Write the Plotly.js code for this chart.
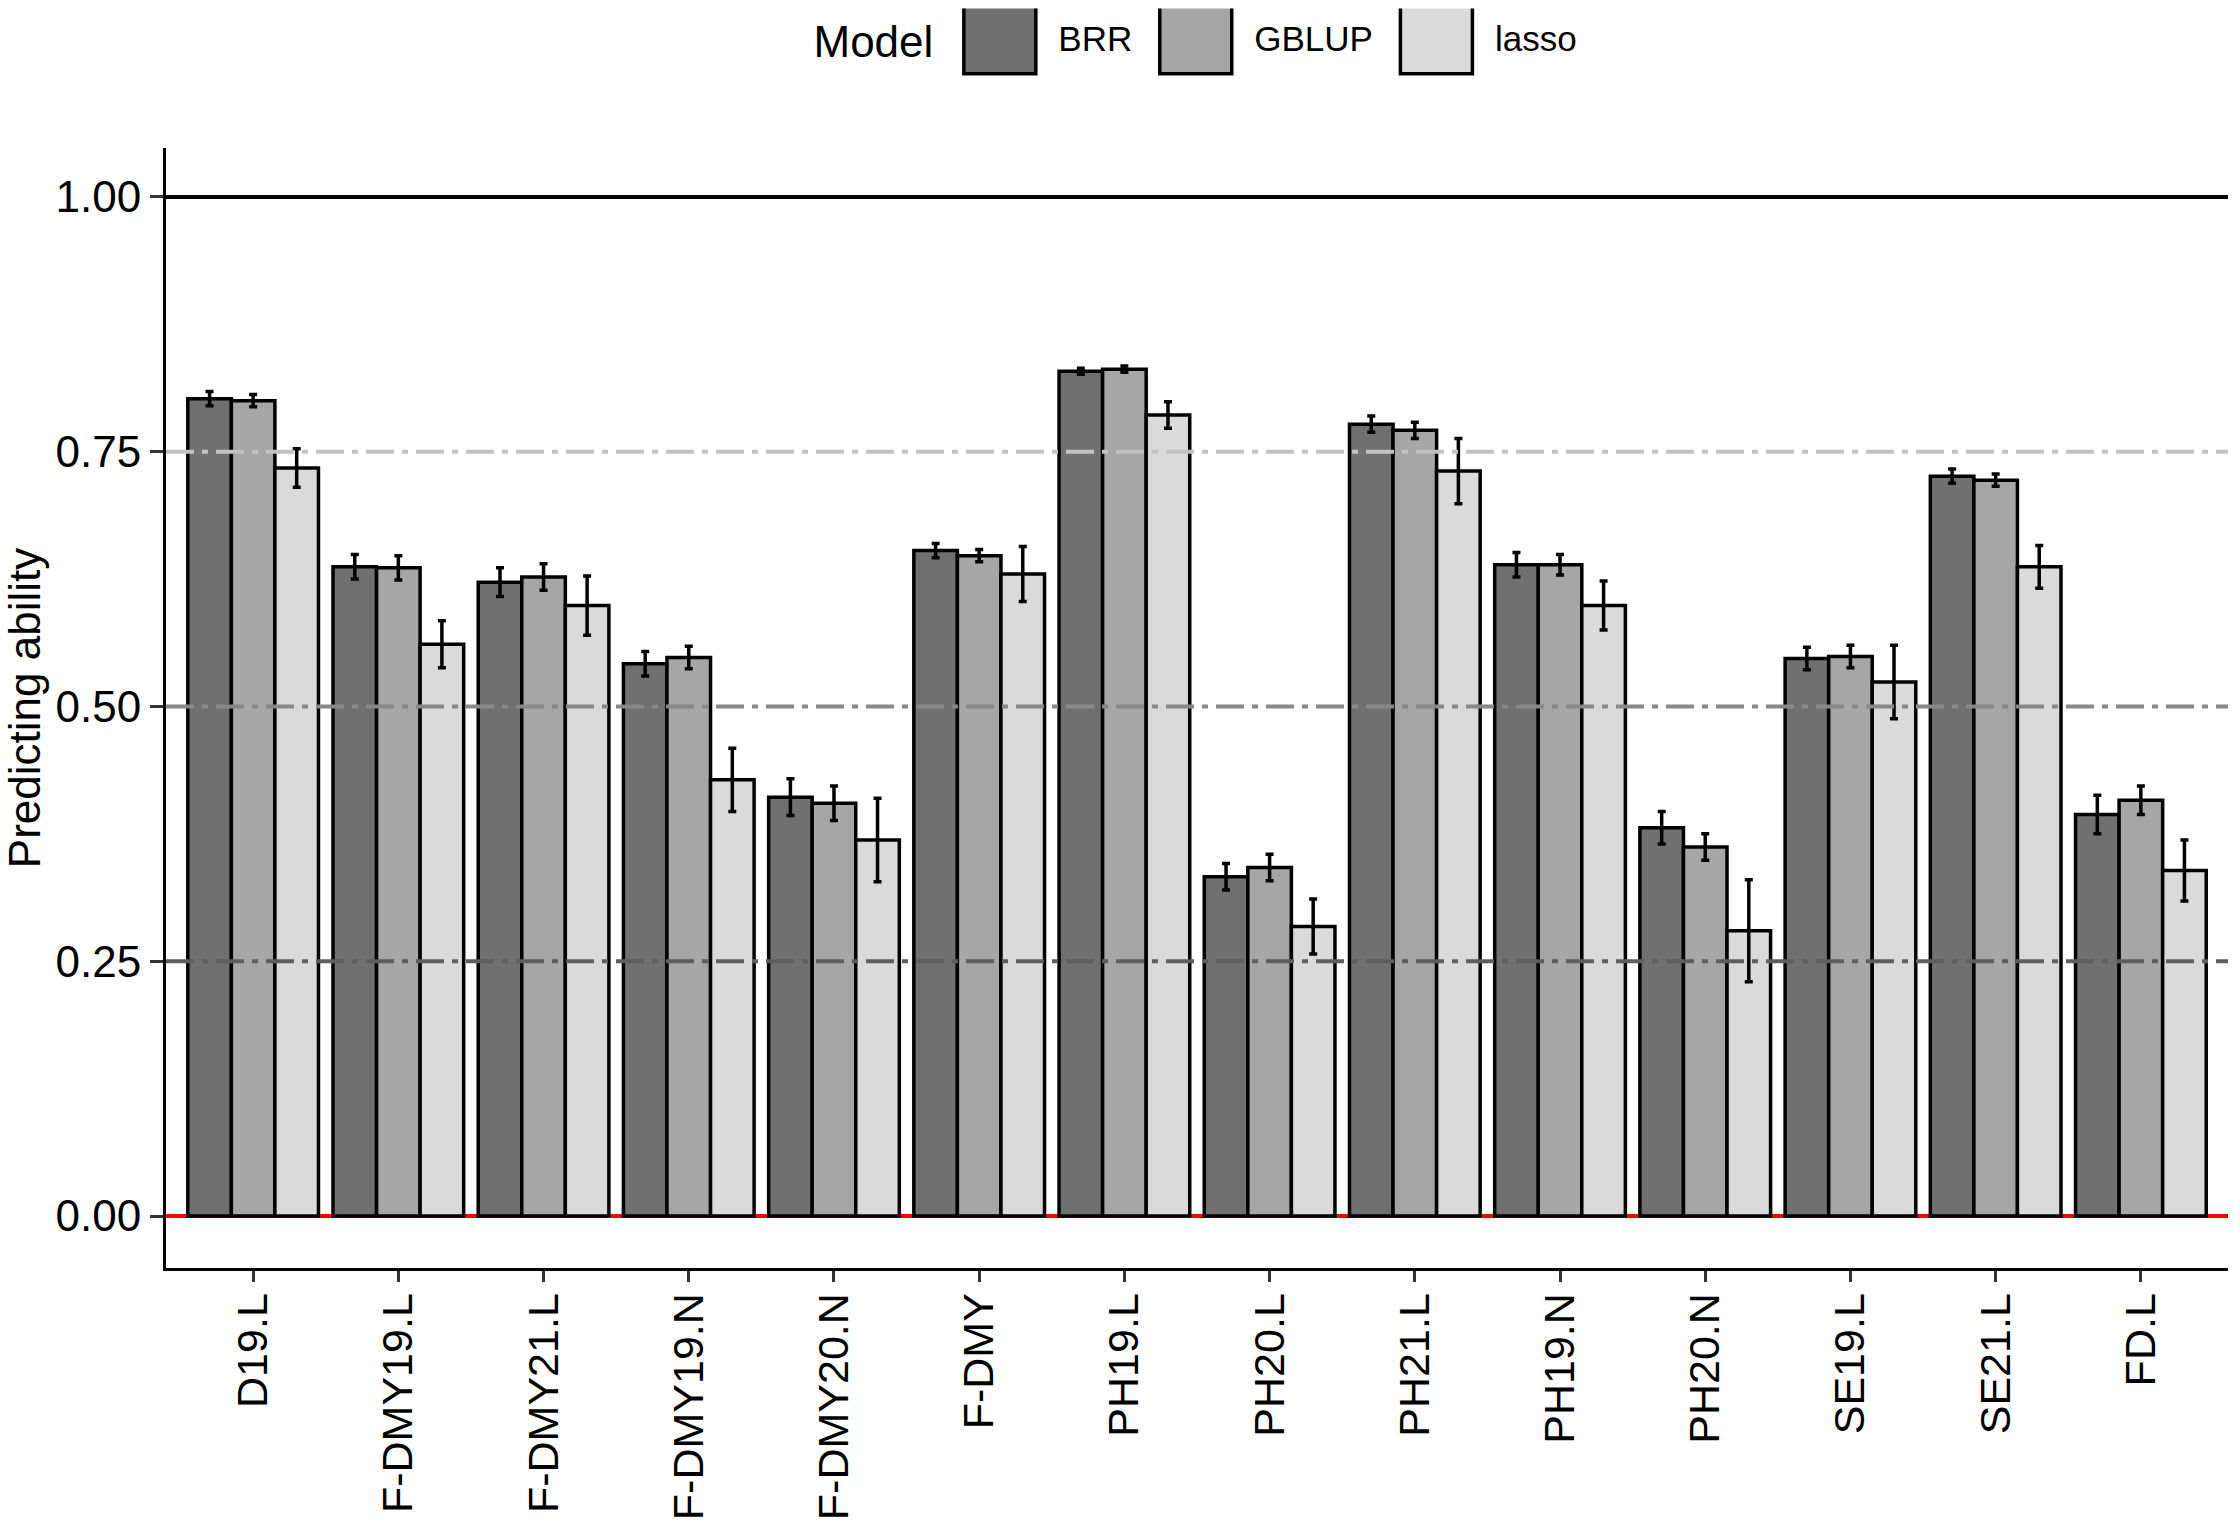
<!DOCTYPE html>
<html>
<head>
<meta charset="utf-8">
<script src="https://cdn.plot.ly/plotly-3.0.1.min.js"></script>
<style>
  html, body { margin: 0; padding: 0; background: #fff; }
</style>
</head>
<body>
<div id="myDiv" style="width:2240px;height:1520px;"></div>
<script>
// traits on the x axis
var traits = ["D19.L", "F-DMY19.L", "F-DMY21.L", "F-DMY19.N", "F-DMY20.N", "F-DMY",
  "PH19.L", "PH20.L", "PH21.L", "PH19.N", "PH20.N", "SE19.L", "SE21.L", "FD.L"];

var models = ["BRR", "GBLUP", "lasso"];
var modelColors = ["#707070", "#a6a6a6", "#dadada"];

// mean predicting ability per model
var brrMean   = [0.802, 0.637, 0.622, 0.542, 0.411, 0.653, 0.829, 0.333, 0.777, 0.639, 0.381, 0.547, 0.726, 0.394];
var gblupMean = [0.800, 0.636, 0.627, 0.548, 0.405, 0.648, 0.831, 0.342, 0.771, 0.639, 0.362, 0.549, 0.722, 0.408];
var lassoMean = [0.734, 0.561, 0.599, 0.428, 0.369, 0.630, 0.786, 0.284, 0.731, 0.599, 0.280, 0.524, 0.637, 0.339];

// error bar half widths
var brrErr   = [0.007, 0.012, 0.014, 0.012, 0.018, 0.007, 0.003, 0.013, 0.008, 0.012, 0.016, 0.011, 0.007, 0.019];
var gblupErr = [0.006, 0.012, 0.013, 0.011, 0.017, 0.006, 0.003, 0.013, 0.008, 0.010, 0.013, 0.011, 0.006, 0.014];
var lassoErr = [0.019, 0.023, 0.029, 0.031, 0.041, 0.027, 0.013, 0.027, 0.032, 0.024, 0.050, 0.036, 0.021, 0.030];

var means = [brrMean, gblupMean, lassoMean];
var errs = [brrErr, gblupErr, lassoErr];

var fontFam = "Liberation Sans, Arial, sans-serif";

var data = models.map(function (m, i) {
  return {
    type: "bar",
    name: m,
    x: traits,
    y: means[i],
    marker: { color: modelColors[i], line: { color: "#000", width: 3.5 } },
    error_y: { type: "data", array: errs[i], visible: true, color: "#000", thickness: 3.5, width: 4 }
  };
});

// reference lines
var shapes = [
  { type: "line", xref: "paper", x0: 0, x1: 1, yref: "y", y0: 0, y1: 0, layer: "below",
    line: { color: "#ff0000", width: 4 } },
  { type: "line", xref: "paper", x0: 0, x1: 1, yref: "y", y0: 1, y1: 1,
    line: { color: "#000", width: 4 } },
  { type: "line", xref: "paper", x0: 0, x1: 1, yref: "y", y0: 0.75, y1: 0.75,
    line: { color: "#c2c2c2", width: 4, dash: "28px,8px,6px,8px" } },
  { type: "line", xref: "paper", x0: 0, x1: 1, yref: "y", y0: 0.5, y1: 0.5,
    line: { color: "#888888", width: 4, dash: "28px,8px,6px,8px" } },
  { type: "line", xref: "paper", x0: 0, x1: 1, yref: "y", y0: 0.25, y1: 0.25,
    line: { color: "#5e5e5e", width: 4, dash: "28px,8px,6px,8px" } }
];

var layout = {
  width: 2240,
  height: 1520,
  margin: { l: 166, r: 12, t: 148, b: 252 },
  paper_bgcolor: "#fff",
  plot_bgcolor: "#fff",
  font: { family: fontFam, color: "#000", size: 44 },
  barmode: "group",
  bargap: 0.1,
  bargroupgap: 0,
  showlegend: true,
  legend: {
    orientation: "h",
    x: 0.5, xanchor: "center",
    yref: "container",
    y: 0.972, yanchor: "middle",
    title: { text: "Model", side: "left", font: { size: 44 } },
    font: { size: 35 },
    itemwidth: 107,
    traceorder: "normal"
  },
  xaxis: {
    type: "category",
    range: [-0.6, 13.6],
    showline: true, linecolor: "#000", linewidth: 3,
    ticks: "outside", ticklen: 11, tickwidth: 3, tickcolor: "#333",
    tickangle: -90,
    ticklabelstandoff: -6,
    tickfont: { size: 43, color: "#000" },
    showgrid: false, zeroline: false
  },
  yaxis: {
    range: [-0.051, 1.048],
    tickvals: [0, 0.25, 0.5, 0.75, 1],
    tickformat: ".2f",
    showline: true, linecolor: "#000", linewidth: 3,
    ticks: "outside", ticklen: 13, tickwidth: 3, tickcolor: "#333",
    tickfont: { size: 44, color: "#000" },
    showgrid: false, zeroline: false,
    title: { text: "Predicting ability", font: { size: 44 }, standoff: 18 }
  },
  shapes: shapes
};

Plotly.newPlot("myDiv", data, layout, { staticPlot: true }).then(function (gd) {
  // ggplot style big legend keys
  gd.querySelectorAll(".legendpoints path").forEach(function (p) {
    p.setAttribute("d", "M36,36H-36V-36H36Z");
    p.style.strokeWidth = "3.5px";
  });
  // lift the legend title to the key labels' line
  var t = gd.querySelector(".legendtitletext");
  if (t) t.setAttribute("transform", "translate(0,-9)");
});
</script>
</body>
</html>
